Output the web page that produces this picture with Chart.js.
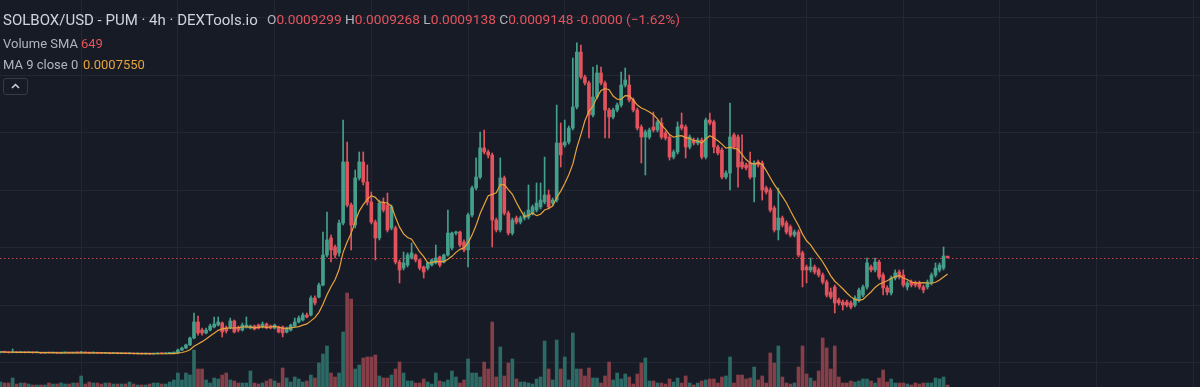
<!DOCTYPE html>
<html><head><meta charset="utf-8">
<script src="https://cdn.jsdelivr.net/npm/chart.js@4.4.1/dist/chart.umd.min.js"></script>
<style>
html,body{margin:0;padding:0;background:#171b26;overflow:hidden}
#wrap{position:relative;width:1200px;height:387px;background:#171b26}
canvas{position:absolute;left:0;top:0}
.t{position:absolute;white-space:nowrap;font-family:Roboto,"Noto Sans",sans-serif;line-height:1}
.g{color:#b2b5be}.r{color:#e2545d}.o{color:#e6a33e}
#btn{position:absolute;left:3px;top:78px;width:25px;height:17px;border:1px solid #363a46;border-radius:3px;box-sizing:border-box}
</style></head><body>
<div id="wrap">
<canvas id="c" width="1200" height="387"></canvas>
<div class="t" style="left:3px;top:13px;font-size:15px;color:#d1d4dc">SOLBOX/USD - PUM · 4h · DEXTools.io</div>
<div class="t" style="left:267px;top:13px;font-size:13.7px"><span class="g">O</span><span class="r">0.0009299</span> <span class="g">H</span><span class="r">0.0009268</span> <span class="g">L</span><span class="r">0.0009138</span> <span class="g">C</span><span class="r">0.0009148</span> <span class="r">-0.0000 (−1.62%)</span></div>
<div class="t g" style="left:3px;top:37px;font-size:13px">Volume SMA</div>
<div class="t r" style="left:81px;top:37px;font-size:13px">649</div>
<div class="t g" style="left:3px;top:58px;font-size:13px">MA 9 close 0</div>
<div class="t o" style="left:83px;top:58px;font-size:13px">0.0007550</div>
<div id="btn"><svg width="23" height="15" style="position:absolute;left:0;top:0"><polyline points="8,9 11.5,5.5 15,9" fill="none" stroke="#d1d4dc" stroke-width="1.5"/></svg></div>
</div>
<script>
// Prices in micro-USD (1e-6 USD), 4h candles
const open = [92,96,94,90,95,91,93,90,92,89, 91,86,88,87,89,86,88,90,87,89, 88,92,88,86,89,85,84,85,83,84, 82,83,81,82,80,81,79,80,78,80, 82,81,84,86,90,113,130,157,217,357, 287,261,287,313,330,348,304,304,365,304, 287,313,304,322,330,313,339,322,304,313, 313,270,287,322,357,374,417,417,565,574, 678,939,1087,1009,957,1217,1748,1374,1200,1609, 1748,1574,1400,1226,1087,1391,1374,1174,1174,878, 826,852,913,939,896,835,826,852,870,922, 878,939,1000,1130,1139,1052,983,1287,1522,1617, 1870,1835,1809,1243,1157,1609,1304,1130,1261,1226, 1261,1270,1304,1330,1357,1400,1461,1391,1417,1913, 1896,1922,2043,2226,2704,2487,2435,2157,2313,2522, 2435,2200,2139,2200,2243,2417,2417,2287,2200,2052, 1965,1965,2052,2026,2087,2000,1965,1791,1835,2070, 2052,1878,1939,1913,1939,1791,2113,2096,1878,1852, 1617,1652,1983,1965,1748,1722,1739,1617,1748,1739, 1522,1504,1348,1157,1261,1217,1183,1113,1139,957, 835,809,835,809,765,704,617,661,548,530, 530,522,504,548,591,661,835,809,878,765, 652,609,739,791,765,661,704,696,696,661, 661,696,765,809,826,929.9];
const high = [100,98,96,122,97,96,95,94,94,93, 92,90,90,91,90,91,93,92,91,91, 102,94,90,96,90,87,88,87,86,86, 86,85,84,84,83,83,82,82,83,87, 85,88,92,96,122,139,165,226,435,409, 304,304,339,400,400,357,322,391,374,322, 348,400,330,330,339,357,348,330,339,322, 322,313,339,391,409,435,435,583,583,696, 1139,1313,1113,1026,1243,2113,1922,1391,1678,1835, 1835,1722,1487,1243,1417,1435,1478,1374,1191,896, 965,957,1043,948,904,843,878,904,1026,930, 948,1330,1139,1148,1148,1070,1304,1539,1783,2009, 2026,1852,1826,1261,1783,1626,1322,1261,1278,1278, 1313,1548,1374,1565,1565,1791,1504,1435,2243,2087, 2113,2061,2652,2783,2765,2504,2452,2574,2591,2574, 2452,2217,2217,2261,2530,2565,2504,2304,2217,2070, 2026,2043,2183,2113,2130,2017,1983,1852,2096,2174, 2070,1983,1957,1957,1957,2130,2174,2113,1896,1870, 1670,2261,2000,1983,1983,1739,1835,1757,1765,1757, 1539,1522,1365,1522,1278,1235,1200,1157,1157,974, 852,913,852,826,783,722,652,678,565,548, 548,539,583,652,678,913,852,913,896,783, 670,757,809,809,809,713,722,713,713,678, 722,783,870,870,1009,926.8];
const low = [88,90,86,88,88,89,87,88,86,87, 84,84,85,85,83,84,86,85,85,86, 86,86,84,84,83,81,82,80,81,79, 80,79,78,77,77,76,76,75,76,78, 78,79,82,84,86,108,124,150,209,243, 243,252,278,304,322,226,261,296,261,270, 278,304,296,287,296,304,296,296,296,261, 226,261,278,313,348,365,391,409,504,565, 670,922,878,913,930,1200,1357,983,1174,1591, 1548,1374,1209,896,1070,1313,1139,1157,861,696, 809,835,904,878,809,739,809,843,861,835, 870,930,983,1113,1009,965,835,1270,1504,1600, 1817,1783,1009,1139,1139,1287,1113,1113,1209,1209, 1243,1252,1287,1313,1339,1383,1339,1374,1400,1704, 1878,1904,2026,2209,2470,2417,1957,2139,2296,2417, 1957,1957,2122,2183,2226,2400,2270,2183,2026,1739, 1635,1948,2009,2009,1948,1939,1765,1774,1817,2026, 1783,1861,1896,1896,1774,1774,2070,1826,1809,1600, 1600,1504,1861,1530,1687,1678,1600,1400,1704,1417, 1470,1313,1139,1070,1183,1122,1096,1096,922,661, 696,791,774,748,687,574,557,435,504,461, 487,470,487,530,574,643,791,791,730,591, 591,591,722,730,661,635,661,661,643,609, 643,678,748,791,809,913.8];
const close = [96,94,90,95,91,93,90,92,89,91, 86,88,87,89,86,88,90,87,89,88, 92,88,86,89,85,84,85,83,84,82, 83,81,82,80,81,79,80,78,80,82, 81,84,86,90,113,130,157,217,357,261, 261,287,322,339,357,270,278,365,270,287, 330,330,322,296,304,339,304,304,330,270, 261,304,330,357,391,417,400,565,522,678, 939,1070,983,939,1217,1748,1374,1200,1609,1748, 1574,1400,1226,1087,1391,1330,1157,1357,878,809, 870,939,957,896,826,791,870,896,913,852, 939,1130,1130,1139,1026,983,1287,1522,1617,1870, 1835,1809,1243,1157,1609,1304,1130,1243,1226,1261, 1287,1330,1357,1391,1417,1461,1357,1417,1913,1809, 1922,2043,2226,2704,2487,2435,2157,2313,2522,2435, 2200,2139,2200,2243,2417,2461,2287,2200,2043,1965, 2009,2026,2026,2096,1965,1957,1791,1835,2052,2043, 1878,1965,1913,1939,1791,2113,2087,1878,1826,1617, 1652,1965,1878,1704,1704,1696,1617,1739,1722,1504, 1487,1330,1157,1261,1200,1139,1113,1139,939,809, 809,835,791,765,704,591,574,522,522,504, 504,487,565,635,661,870,809,878,748,652, 617,739,783,748,678,696,678,678,661,635, 704,765,826,852,930,914.8];
const volume = [250,200,200,450,150,200,200,150,100,100, 100,100,200,150,150,200,150,150,200,200, 550,150,250,200,200,150,200,200,150,150, 150,150,250,150,100,100,100,150,200,200, 150,150,250,350,700,350,700,600,1850,900, 900,350,200,450,400,600,700,350,300,200, 200,200,800,200,150,200,300,400,300,200, 950,450,250,500,400,250,300,600,450,1200, 1650,2050,700,500,700,2750,4700,4400,900,1100, 1450,1500,1500,1600,550,450,450,600,900,1250, 700,300,300,200,200,400,250,150,700,300, 250,350,800,500,200,350,1400,700,700,500, 1250,900,3250,500,2000,550,1200,1400,400,250, 250,200,150,400,500,2300,900,350,2350,900, 1500,350,2700,900,900,550,950,450,450,200, 550,1250,350,700,400,650,500,150,650,1200, 1450,300,300,200,200,150,400,250,450,200, 550,200,100,200,300,350,400,400,200,500, 550,1500,200,600,600,400,450,1000,350,550, 200,1700,1200,2050,500,200,150,200,1000,2050, 650,450,300,800,2450,1950,900,2050,500,200, 200,300,250,300,400,400,300,200,450,850, 250,400,200,200,200,150,100,200,150,200, 200,200,450,400,500,100];
// candle index of the time-axis grid lines (every 4 days, one 6-day gap)
const timeGridIdx = [20,44,68,92,116,140,176,200,224,248,272,296];
// price grid levels (USD)
const priceGrid = [0,0.0005,0.001,0.0015,0.002,0.0025,0.003];
const MA_LEN = 9;
const U = 1e-6;

const UP = '#45a08b', DOWN = '#e2535d';
const VUP = '#2d6a65', VDOWN = '#853f48';
const idx = open.map((_, i) => i);
const isUp = i => close[i] >= open[i];
const last = close.length - 1;

const ma = close.map((_, i) => {
  const s = close.slice(Math.max(0, i - MA_LEN + 1), i + 1);
  return s.reduce((a, b) => a + b, 0) / s.length;
});

const priceLine = {
  id: 'priceLine',
  beforeDatasetsDraw(chart) {
    const {ctx, chartArea, scales} = chart;
    const y = Math.round(scales.y.getPixelForValue(close[last] * U)) + 0.5;
    ctx.save();
    ctx.strokeStyle = '#b8464f';
    ctx.lineWidth = 1;
    ctx.setLineDash([1.5, 2.5]);
    ctx.beginPath();
    ctx.moveTo(chartArea.left, y);
    ctx.lineTo(chartArea.right, y);
    ctx.stroke();
    ctx.restore();
  }
};

new Chart(document.getElementById('c'), {
  type: 'bar',
  data: {
    datasets: [
      {
        type: 'line', label: 'MA 9', order: 0, yAxisID: 'y',
        data: idx.map(i => ({x: i, y: ma[i] * U})),
        borderColor: '#e8a33c', borderWidth: 1.2, pointRadius: 0, tension: 0, fill: false
      },
      {
        label: 'body', order: 1, yAxisID: 'y', grouped: false,
        data: idx.map(i => ({x: i, y: [open[i] * U, close[i] * U]})),
        backgroundColor: idx.map(i => isUp(i) ? UP : DOWN),
        barThickness: 3, minBarLength: 1, borderWidth: 0
      },
      {
        label: 'wick', order: 2, yAxisID: 'y', grouped: false,
        data: idx.map(i => ({x: i, y: [low[i] * U, high[i] * U]})),
        backgroundColor: idx.map(i => isUp(i) ? UP : DOWN),
        barThickness: 1, minBarLength: 1, borderWidth: 0
      },
      {
        label: 'volume', order: 3, yAxisID: 'yv', grouped: false,
        data: idx.map(i => ({x: i, y: volume[i]})),
        backgroundColor: idx.map(i => isUp(i) ? VUP : VDOWN),
        barThickness: 3, borderWidth: 0
      }
    ]
  },
  options: {
    responsive: false, animation: false, devicePixelRatio: 1, events: [],
    layout: {padding: 0},
    plugins: {legend: {display: false}, tooltip: {enabled: false}},
    scales: {
      x: {
        type: 'linear', min: -0.14, max: 297.63, offset: false,
        grid: {offset: false, color: '#232733', drawTicks: false, lineWidth: 1},
        border: {display: false}, ticks: {display: false},
        afterBuildTicks: s => { s.ticks = timeGridIdx.map(v => ({value: v})); }
      },
      y: {
        type: 'linear', position: 'right', min: -0.0002087, max: 0.0031565,
        grid: {color: '#232733', drawTicks: false, lineWidth: 1},
        border: {display: false}, ticks: {display: false},
        afterBuildTicks: s => { s.ticks = priceGrid.map(v => ({value: v})); }
      },
      yv: {type: 'linear', display: false, min: 0, max: 19350}
    }
  },
  plugins: [priceLine]
});
</script>
</body></html>
